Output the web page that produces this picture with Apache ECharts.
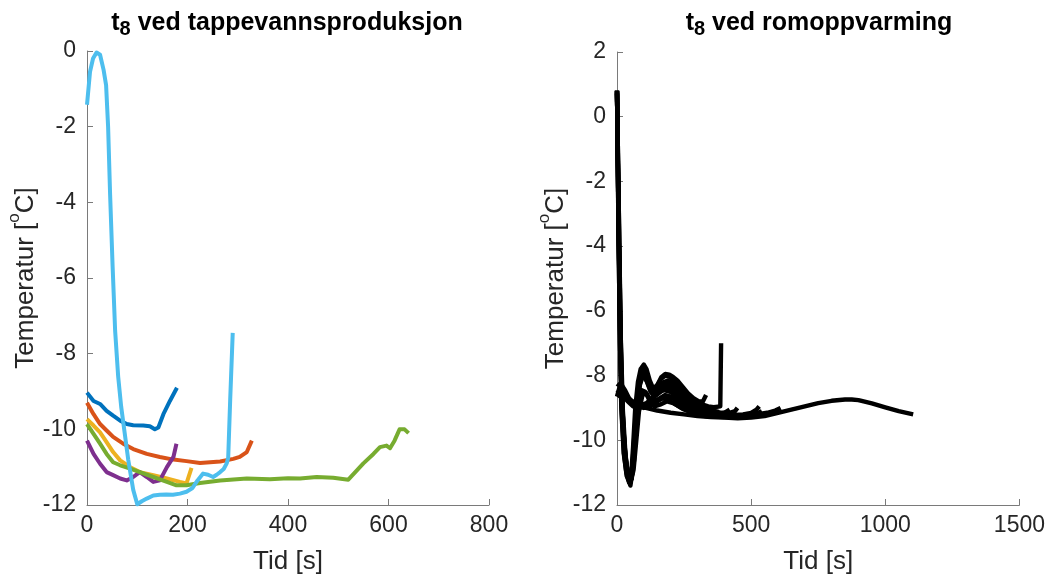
<!DOCTYPE html>
<html>
<head>
<meta charset="utf-8">
<script src="https://cdn.jsdelivr.net/npm/echarts@6.0.0/dist/echarts.min.js"></script>
<style>
  html, body { margin: 0; padding: 0; background: #ffffff; }
  #chart { width: 1048px; height: 580px; }
</style>
</head>
<body>
<div id="chart"></div>
<script>
// ---- Left panel: t8 during tap-water production (six runs) ----
const tapBlueX   = [0, 13, 26, 39, 52, 66, 79, 92, 112, 125, 135, 142, 152, 165, 179];
const tapBlueY   = [-9.03, -9.25, -9.33, -9.51, -9.64, -9.77, -9.86, -9.89, -9.9, -9.92, -10.0, -9.95, -9.6, -9.25, -8.9];

const tapOrangeX = [0, 13, 26, 39, 52, 72, 92, 119, 145, 172, 198, 225, 265, 291, 304, 318, 328];
const tapOrangeY = [-9.3, -9.6, -9.86, -10.03, -10.2, -10.38, -10.52, -10.65, -10.73, -10.8, -10.84, -10.89, -10.85, -10.78, -10.73, -10.6, -10.3];

const tapYellowX = [0, 13, 26, 39, 52, 66, 86, 105, 132, 159, 185, 198, 208];
const tapYellowY = [-9.73, -9.9, -10.08, -10.34, -10.6, -10.82, -11.0, -11.13, -11.21, -11.3, -11.39, -11.43, -11.02];

const tapPurpleX = [0, 13, 26, 39, 52, 66, 79, 92, 105, 119, 132, 145, 159, 172, 178];
const tapPurpleY = [-10.3, -10.65, -10.91, -11.13, -11.21, -11.3, -11.35, -11.26, -11.13, -11.26, -11.39, -11.35, -11.0, -10.73, -10.38];

const tapGreenX  = [0, 13, 26, 39, 52, 66, 86, 105, 132, 159, 178, 198, 225, 265, 318, 364, 400, 424, 457, 490, 520, 550, 570, 583, 596, 603, 612, 622, 632, 640];
const tapGreenY  = [-9.86, -10.12, -10.38, -10.65, -10.87, -10.95, -11.04, -11.13, -11.26, -11.39, -11.48, -11.48, -11.42, -11.35, -11.3, -11.32, -11.29, -11.3, -11.26, -11.28, -11.33, -10.9, -10.65, -10.47, -10.43, -10.5, -10.3, -10.0, -10.0, -10.1];

const tapCyanX   = [0, 6, 12, 19, 26, 33, 38, 42, 46, 51, 56, 62, 68, 74, 82, 92, 100, 109, 119, 132, 145, 158, 171, 185, 198, 210, 220, 231, 241, 251, 258, 265, 272, 278, 281, 285, 290];
const tapCyanY   = [-1.42, -0.55, -0.2, -0.04, -0.1, -0.5, -0.9, -2.0, -3.8, -5.7, -7.4, -8.6, -9.4, -10.0, -10.8, -11.6, -11.98, -11.9, -11.83, -11.75, -11.73, -11.72, -11.73, -11.7, -11.65, -11.55, -11.35, -11.17, -11.2, -11.26, -11.2, -11.13, -11.05, -10.9, -10.75, -9.2, -7.45];

// ---- Right panel: t8 during space heating (all runs drawn in black) ----
const heatLongX = [0, 15, 30, 50, 75, 100, 150, 200, 250, 300, 350, 400, 450, 500, 550, 600, 650, 700, 750, 800, 850, 875, 900, 950, 1000, 1050, 1104];
const heatLongY = [-8.65, -8.55, -8.6, -8.75, -8.88, -8.98, -9.08, -9.15, -9.2, -9.25, -9.28, -9.3, -9.32, -9.3, -9.25, -9.15, -9.05, -8.95, -8.85, -8.78, -8.74, -8.74, -8.76, -8.86, -8.98, -9.1, -9.2];

const heat1X = [0, 6, 12, 18, 28, 40, 50, 57, 64, 72, 82, 92, 100, 110, 122, 135, 150, 165, 180, 195, 210, 225, 245, 265, 285, 305, 320, 332];
const heat1Y = [0.8, -2.5, -6, -8.6, -10.2, -11.0, -11.4, -11.45, -10.6, -9.4, -8.3, -7.75, -7.66, -7.8, -8.15, -8.4, -8.3, -8.05, -7.95, -7.97, -8.05, -8.15, -8.35, -8.55, -8.7, -8.8, -8.8, -8.6];

const heat2X = [0, 5, 10, 16, 25, 35, 45, 52, 60, 68, 78, 88, 97, 108, 120, 135, 150, 165, 180, 200, 220, 240, 260, 280, 300, 320, 340, 360, 385, 388];
const heat2Y = [0.8, -3, -6.5, -9, -10.4, -11.0, -11.3, -11.2, -10.2, -9.0, -8.2, -7.8, -7.75, -7.95, -8.3, -8.45, -8.3, -8.1, -8.0, -8.05, -8.25, -8.45, -8.6, -8.75, -8.85, -8.9, -8.95, -8.98, -8.95, -7.0];

const heat3X = [0, 8, 15, 22, 32, 42, 50, 58, 66, 75, 85, 95, 105, 118, 130, 145, 160, 175, 190, 205, 225, 250, 275, 300, 330, 360, 390, 420, 440, 449];
const heat3Y = [0.7, -4, -7.5, -9.5, -10.6, -11.1, -11.2, -10.8, -9.8, -8.8, -8.1, -7.85, -7.9, -8.2, -8.45, -8.5, -8.35, -8.2, -8.15, -8.25, -8.45, -8.7, -8.85, -8.95, -9.05, -9.1, -9.15, -9.15, -9.1, -9.0];

const heat4X = [0, 6, 14, 22, 30, 40, 48, 55, 62, 70, 80, 92, 105, 120, 135, 150, 170, 190, 210, 235, 260, 290, 320, 350, 380, 410, 440, 470, 500, 520, 530];
const heat4Y = [0.75, -3.5, -7.2, -9.3, -10.5, -11.1, -11.35, -11.1, -10.2, -9.2, -8.4, -8.0, -8.05, -8.35, -8.55, -8.55, -8.35, -8.25, -8.35, -8.55, -8.75, -8.95, -9.05, -9.12, -9.18, -9.2, -9.22, -9.2, -9.15, -9.05, -8.95];

const heat5X = [0, 7, 14, 22, 32, 42, 50, 58, 66, 76, 86, 98, 112, 128, 145, 162, 180, 200, 225, 250, 280, 310, 340, 370, 400, 440, 480, 520, 560, 590, 610];
const heat5Y = [0.8, -3, -6.8, -9.1, -10.5, -11.15, -11.3, -11.0, -10.0, -8.9, -8.25, -8.0, -8.1, -8.4, -8.6, -8.5, -8.4, -8.5, -8.7, -8.85, -9.0, -9.1, -9.15, -9.2, -9.22, -9.25, -9.24, -9.2, -9.15, -9.08, -9.0];

const heat6X = [0, 5, 11, 18, 26, 36, 46, 54, 62, 70, 80, 90, 100, 112, 125, 140, 155, 170, 185, 200, 220, 240, 260, 280, 300];
const heat6Y = [0.8, -3.2, -7, -9.2, -10.4, -11.1, -11.3, -11.2, -10.4, -9.3, -8.5, -8.1, -8.0, -8.2, -8.5, -8.65, -8.55, -8.35, -8.3, -8.4, -8.55, -8.7, -8.85, -8.95, -9.0];

const heat7X = [0, 8, 20, 35, 50, 70, 90, 110, 130, 150, 175, 200, 230, 260, 290, 320, 350, 380];
const heat7Y = [-8.25, -8.3, -8.45, -8.65, -8.8, -8.9, -8.92, -8.85, -8.7, -8.55, -8.45, -8.5, -8.65, -8.8, -8.9, -9.0, -9.08, -9.12];

const heat8X = [0, 8, 18, 30, 45, 60, 80, 100, 125, 150, 180, 210, 240, 270, 300, 330];
const heat8Y = [-8.65, -8.4, -8.3, -8.45, -8.7, -8.85, -8.95, -9.0, -8.95, -8.8, -8.65, -8.7, -8.85, -8.98, -9.05, -9.1];

const heat9X = [0, 6, 13, 20, 30, 40, 50, 60, 70, 80, 92, 105, 120, 140, 160, 180, 200, 225, 250, 280, 310, 340, 370, 400, 420];
const heat9Y = [0.8, -3.5, -7.4, -9.4, -10.6, -11.1, -11.25, -10.6, -9.6, -8.8, -8.45, -8.5, -8.75, -8.85, -8.7, -8.6, -8.65, -8.8, -8.95, -9.05, -9.12, -9.18, -9.2, -9.15, -9.05];

const heat10X = [0, 20, 40, 60, 80, 100, 120, 145, 170, 195, 220, 250, 280, 310, 340, 365];
const heat10Y = [-8.45, -8.6, -8.8, -8.95, -9.0, -8.95, -8.85, -8.75, -8.7, -8.78, -8.9, -9.05, -9.15, -9.2, -9.22, -9.1];

const heat11X = [0, 7, 14, 24, 34, 44, 54, 62, 72, 82, 95, 110, 125, 140, 160, 185, 210, 240, 270, 300, 330, 360, 400, 460, 500, 540];
const heat11Y = [0.75, -4, -7.8, -9.7, -10.7, -11.1, -11.2, -10.9, -10.0, -9.1, -8.6, -8.55, -8.75, -8.95, -8.9, -8.8, -8.85, -9.0, -9.1, -9.2, -9.25, -9.27, -9.28, -9.28, -9.25, -9.1];

// ---- Axis ranges and tick steps ----
const leftXTicks  = { min: 0, max: 800, step: 200 };
const leftYTicks  = { min: -12, max: 0, step: 2 };
const rightXTicks = { min: 0, max: 1500, step: 500 };
const rightYTicks = { min: -12, max: 2, step: 2 };

const FONT = 'Liberation Sans, Arial, Helvetica, sans-serif';
const AXIS_GRAY = '#7a7a7a';
const TEXT_DARK = '#262626';

function pairs(xs, ys) { return xs.map((x, i) => [x, ys[i]]); }

function makeX(idx, t) {
  return {
    type: 'value', gridIndex: idx, min: t.min, max: t.max, interval: t.step,
    name: 'Tid [s]', nameLocation: 'middle', nameGap: 44,
    nameTextStyle: { fontFamily: FONT, fontSize: 26, color: TEXT_DARK },
    axisLine: { show: true, onZero: false, lineStyle: { color: AXIS_GRAY, width: 1 } },
    axisTick: { show: true, inside: true, length: 6, lineStyle: { color: AXIS_GRAY } },
    axisLabel: { fontFamily: FONT, fontSize: 23, color: TEXT_DARK, margin: 9, formatter: v => String(v) },
    splitLine: { show: false }
  };
}
function makeY(idx, t) {
  return {
    type: 'value', gridIndex: idx, min: t.min, max: t.max, interval: t.step,
    name: '{a|Temperatur [}{o|o}{a|C]}', nameLocation: 'middle', nameGap: 46, nameRotate: 90,
    nameTextStyle: {
      fontFamily: FONT, color: TEXT_DARK,
      rich: {
        a: { fontFamily: FONT, fontSize: 26, color: TEXT_DARK, lineHeight: 33, verticalAlign: 'bottom' },
        o: { fontFamily: FONT, fontSize: 17, color: TEXT_DARK, lineHeight: 17, verticalAlign: 'top' }
      }
    },
    axisLine: { show: true, onZero: false, lineStyle: { color: AXIS_GRAY, width: 1 } },
    axisTick: { show: true, inside: true, length: 6, lineStyle: { color: AXIS_GRAY } },
    axisLabel: { fontFamily: FONT, fontSize: 23, color: TEXT_DARK, margin: 11, formatter: v => String(v) },
    splitLine: { show: false }
  };
}
function line(idx, xs, ys, color, width) {
  return {
    type: 'line', xAxisIndex: idx, yAxisIndex: idx, data: pairs(xs, ys),
    showSymbol: false, symbol: 'none', smooth: false, clip: true,
    lineStyle: { color: color, width: width, join: 'round', cap: 'butt' },
    emphasis: { disabled: true }, silent: true
  };
}
function titleText(x, rest) {
  return {
    type: 'text', x: x, y: 11,
    style: {
      text: '{t|t}{s|8}{t| ' + rest + '}',
      align: 'center', verticalAlign: 'top',
      rich: {
        t: { fontFamily: FONT, fontSize: 25, fontWeight: 'bold', fill: '#000', lineHeight: 28, padding: [0, 0, 8, 0], verticalAlign: 'top' },
        s: { fontFamily: FONT, fontSize: 20, fontWeight: 'bold', fill: '#000', lineHeight: 21, verticalAlign: 'bottom' }
      }
    }
  };
}

const LW = 4.0;   // coloured runs
const BW = 4.4;   // black runs

const chart = echarts.init(document.getElementById('chart'), null, { renderer: 'canvas' });
chart.setOption({
  animation: false,
  backgroundColor: '#ffffff',
  grid: [
    { left: 87, top: 51, width: 402, height: 457 },
    { left: 617, top: 52, width: 405, height: 456 }
  ],
  xAxis: [makeX(0, leftXTicks), makeX(1, rightXTicks)],
  yAxis: [makeY(0, leftYTicks), makeY(1, rightYTicks)],
  graphic: [
    titleText(287, 'ved tappevannsproduksjon'),
    titleText(819, 'ved romoppvarming')
  ],
  series: [
    line(0, tapBlueX, tapBlueY, '#0072BD', LW),
    line(0, tapOrangeX, tapOrangeY, '#D95319', LW),
    line(0, tapYellowX, tapYellowY, '#EDB120', LW),
    line(0, tapPurpleX, tapPurpleY, '#7E2F8E', LW),
    line(0, tapGreenX, tapGreenY, '#77AC30', LW),
    line(0, tapCyanX, tapCyanY, '#4DBEEE', LW),
    line(1, heatLongX, heatLongY, '#000', BW),
    line(1, heat1X, heat1Y, '#000', BW),
    line(1, heat2X, heat2Y, '#000', BW),
    line(1, heat3X, heat3Y, '#000', BW),
    line(1, heat4X, heat4Y, '#000', BW),
    line(1, heat5X, heat5Y, '#000', BW),
    line(1, heat6X, heat6Y, '#000', BW),
    line(1, heat7X, heat7Y, '#000', BW),
    line(1, heat8X, heat8Y, '#000', BW),
    line(1, heat9X, heat9Y, '#000', BW),
    line(1, heat10X, heat10Y, '#000', BW),
    line(1, heat11X, heat11Y, '#000', BW)
  ]
});
</script>
</body>
</html>
